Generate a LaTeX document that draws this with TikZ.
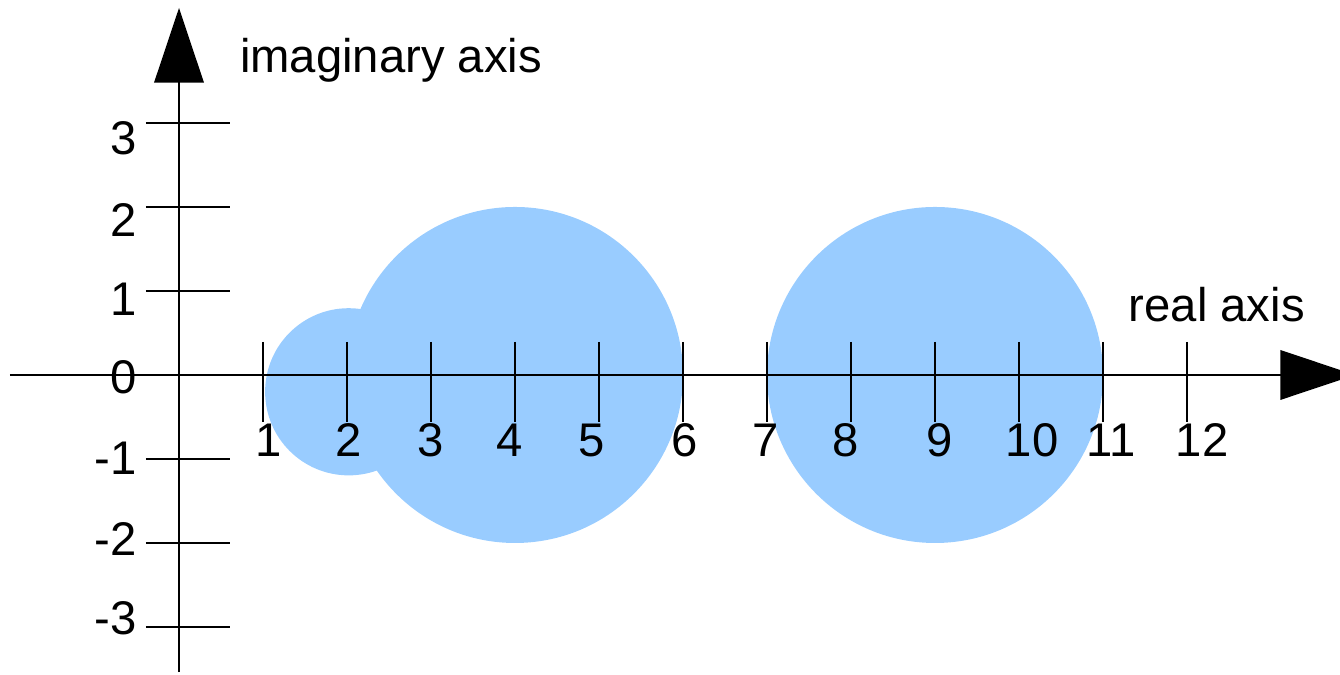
\documentclass[tikz,border=0pt]{standalone}
\usepackage{fontspec}
\setmainfont{Liberation Sans}
\usetikzlibrary{arrows.meta}
\definecolor{discblue}{HTML}{99CCFF}

\begin{document}
\begin{tikzpicture}[x=1cm,y=1cm,font=\fontsize{16}{19}\selectfont,
 axis/.style={line width=.6pt,draw=black,-{Triangle[length=8.9mm,width=5.9mm]}},
 tick/.style={line width=.45pt,draw=black},
 num/.style={inner sep=0pt,anchor=base},
 ynum/.style={inner sep=0pt,anchor=base east},
 lab/.style={inner sep=0pt,anchor=base west}]
\useasboundingbox (-2.131,-3.560) rectangle (13.821,4.464);
\clip (-2.131,-3.560) rectangle (13.821,4.464);
% discs
\fill[discblue] (2.02,-0.2) circle (0.995);
\fill[discblue] (4,0) circle (2);
\fill[discblue] (9,0) circle (2);
% axes
\coordinate (xstart) at (-2.012,0);
\coordinate (xend) at (14,0);
\coordinate (ystart) at (0,-3.536);
\coordinate (yend) at (0,4.369);
\draw[axis] (xstart) -- (xend);
\draw[axis] (ystart) -- (yend);
\foreach \i in {1,...,12} \draw[tick] (\i,0.393) -- (\i,-0.56);
\foreach \j in {-3,-2,-1,1,2,3} \draw[tick] (-0.393,\j) -- (0.607,\j);
% real axis numbers
\node[num] (re1) at (1.07,-0.976) {1};
\node[num] (re2) at (2.024,-0.976) {2};
\node[num] (re3) at (3.0,-0.976) {3};
\node[num] (re4) at (3.94,-0.976) {4};
\node[num] (re5) at (4.917,-0.976) {5};
\node[num] (re6) at (6.024,-0.976) {6};
\node[num] (re7) at (6.988,-0.976) {7};
\node[num] (re8) at (7.94,-0.976) {8};
\node[num] (re9) at (9.06,-0.976) {9};
\node[num] (re10) at (10.155,-0.976) {10};
\node[num] (re11) at (11.1,-0.976) {11};
\node[num] (re12) at (12.18,-0.976) {12};
% imaginary axis numbers
\node[ynum] (im3) at (-0.5,2.619) {3};
\node[ynum] (im2) at (-0.5,1.643) {2};
\node[ynum] (im1) at (-0.5,0.714) {1};
\node[ynum] (im0) at (-0.5,-0.226) {0};
\node[ynum] (imm1) at (-0.5,-1.190) {-1};
\node[ynum] (imm2) at (-0.5,-2.143) {-2};
\node[ynum] (imm3) at (-0.5,-3.095) {-3};
% axis names
\node[lab] (imname) at (0.72,3.595) {imaginary axis};
\node[lab] (rename) at (11.30,0.631) {real axis};
\end{tikzpicture}
\end{document}
